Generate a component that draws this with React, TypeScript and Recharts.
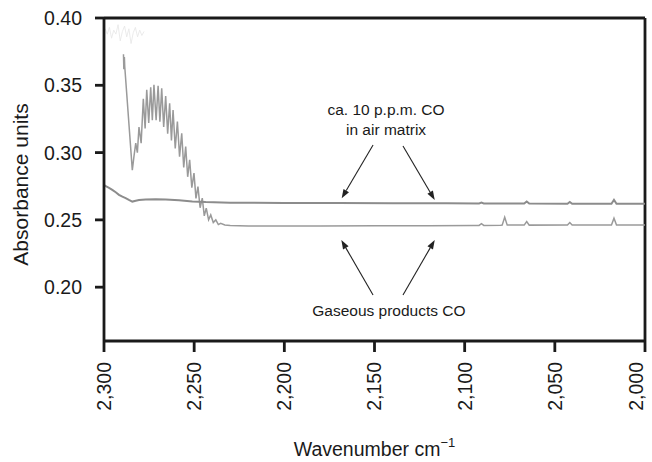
import React from 'react';
import { LineChart, Line, XAxis, YAxis, ReferenceLine, ReferenceDot } from 'recharts';

const FONT = '"Liberation Sans", Arial, Helvetica, sans-serif';

const xTicks = [2300, 2250, 2200, 2150, 2100, 2050, 2000];
const yTicks = [0.2, 0.25, 0.3, 0.35, 0.4];

// ca. 10 p.p.m. CO in air matrix (upper trace)
const airWavenumber = [
  2300, 2299, 2297.2, 2295.4, 2293.5, 2291.7, 2289.8, 2288, 2286.2, 2284.3, 2282.4, 2280.6,
  2276.9, 2271.3, 2265.8, 2258.4, 2251, 2243.6, 2230, 2200, 2170, 2140, 2110, 2092, 2090.7,
  2089.4, 2067, 2065.6, 2064.2, 2043, 2041.7, 2040.4, 2018.6, 2017.2, 2015.8, 2000,
];
const airAbsorbance = [
  0.276, 0.275, 0.2738, 0.2723, 0.2705, 0.2686, 0.2672, 0.2661, 0.2648, 0.2636, 0.2642, 0.2647,
  0.2652, 0.2654, 0.2652, 0.2646, 0.2637, 0.2632, 0.2628, 0.2626, 0.2625, 0.2624, 0.2623, 0.2622, 0.2628,
  0.2622, 0.2621, 0.2636, 0.2621, 0.262, 0.2633, 0.262, 0.262, 0.2649, 0.262, 0.262,
];

// Gaseous products CO (lower trace)
const gasWavenumber = [
  2289.2, 2289.0, 2288.7, 2288.5, 2284.3, 2283.4, 2282.4, 2281.5, 2280.6, 2279.4, 2278.2, 2277.2,
  2276.3, 2275.2, 2274.1, 2273.2, 2272.3, 2271.1, 2270.0, 2269.0, 2268.0, 2266.9, 2265.8, 2264.7,
  2263.6, 2262.6, 2261.7, 2260.5, 2259.3, 2258.1, 2256.9, 2255.8, 2254.7, 2253.6, 2252.5, 2251.3,
  2250.1, 2249.0, 2247.9, 2246.7, 2245.5, 2244.4, 2243.3, 2242.0, 2240.8, 2239.4, 2238.0, 2236.6,
  2235.3, 2233, 2230, 2220, 2200, 2180, 2150, 2120, 2095, 2092, 2090.7, 2089.4, 2080, 2079.2,
  2077.8, 2076.4, 2067, 2065.6, 2064.2, 2043, 2041.7, 2040.4, 2018.6, 2017.2, 2015.8, 2000,
];
const gasAbsorbance = [
  0.373, 0.362, 0.371, 0.364, 0.287, 0.297, 0.307, 0.3, 0.319, 0.307, 0.34, 0.318,
  0.3466, 0.322, 0.3486, 0.324, 0.3503, 0.324, 0.3496, 0.323, 0.3478, 0.319, 0.3421, 0.314,
  0.3367, 0.309, 0.3317, 0.303, 0.323, 0.297, 0.3144, 0.289, 0.3045, 0.282, 0.2946, 0.274,
  0.2847, 0.266, 0.2747, 0.259, 0.2661, 0.253, 0.2587, 0.25, 0.2537, 0.248, 0.25, 0.2465,
  0.2475, 0.2462, 0.2458, 0.2455, 0.2455, 0.2455, 0.2456, 0.2457, 0.2458, 0.2459, 0.2472, 0.2459, 0.246, 0.2461,
  0.252, 0.2461, 0.2461, 0.2488, 0.2461, 0.2462, 0.248, 0.2462, 0.2462, 0.2513, 0.2462, 0.2462,
];

// faint saturated region at the top-left
const satWavenumber = [
  2299.3, 2298.2, 2297.0, 2295.8, 2294.6, 2293.4, 2292.2, 2291.0, 2289.8, 2288.6, 2287.4, 2286.2,
  2285.0, 2283.8, 2282.6, 2281.4, 2280.2, 2279.0, 2277.8,
];
const satAbsorbance = [
  0.392, 0.388, 0.393, 0.385, 0.391, 0.388, 0.395, 0.383, 0.39, 0.394, 0.386, 0.392,
  0.381, 0.389, 0.393, 0.386, 0.391, 0.387, 0.39,
];

const airLabelLines = ['ca. 10 p.p.m. CO', 'in air matrix'];
const airLabelPos = [[2143.6, 0.3317], [2143.6, 0.3173]];
const gasLabel = 'Gaseous products CO';
const gasLabelPos = [2142, 0.1823];

const airArrows = [
  [[2150.8, 0.3056], [2168.2, 0.266]],
  [[2134.2, 0.3049], [2116.6, 0.2648]],
];
const gasArrows = [
  [[2150.8, 0.1942], [2168.4, 0.235]],
  [[2134.2, 0.1942], [2116.6, 0.235]],
];

const zip = (xs: number[], ys: number[]) => xs.map((x, i) => ({ x, y: ys[i] }));
const airData = zip(airWavenumber, airAbsorbance);
const gasData = zip(gasWavenumber, gasAbsorbance);
const satData = zip(satWavenumber, satAbsorbance);

const AXIS = '#1a1a1a';

const Arrow = (p: any) => {
  const { x1, y1, x2, y2 } = p;
  const dx = x2 - x1;
  const dy = y2 - y1;
  const len = Math.hypot(dx, dy) || 1;
  const ux = dx / len;
  const uy = dy / len;
  const hl = 9;
  const hw = 3.2;
  const bx = x2 - ux * hl;
  const by = y2 - uy * hl;
  const pts = `${x2},${y2} ${bx - uy * hw},${by + ux * hw} ${bx + uy * hw},${by - ux * hw}`;
  return (
    <g>
      <line x1={x1} y1={y1} x2={bx} y2={by} stroke="#222" strokeWidth={1.1} />
      <polygon points={pts} fill="#222" />
    </g>
  );
};

const XTick = (p: any) => {
  const { x, y, payload } = p;
  const label = payload.value.toLocaleString('en-US');
  return (
    <text
      x={x}
      y={y}
      transform={`rotate(-90, ${x}, ${y})`}
      textAnchor="end"
      dy="0.355em"
      fontSize={19.5}
      fontFamily={FONT}
      fill="#1a1a1a"
    >
      {label}
    </text>
  );
};

const XLabel = (p: any) => {
  const vb = p.viewBox || {};
  const cx = vb.x + vb.width / 2;
  const y = vb.y + 115;
  return (
    <text x={cx} y={y} textAnchor="middle" fontSize={19.5} fontFamily={FONT} fill="#1a1a1a">
      Wavenumber cm
      <tspan fontSize={13} dy={-9}>−1</tspan>
    </text>
  );
};

const YLabel = (p: any) => {
  const vb = p.viewBox || {};
  const x = vb.x + 28;
  const y = vb.y + vb.height / 2 + 5;
  return (
    <text
      x={x}
      y={y}
      transform={`rotate(-90, ${x}, ${y})`}
      textAnchor="middle"
      fontSize={21}
      fontFamily={FONT}
      fill="#1a1a1a"
    >
      Absorbance units
    </text>
  );
};

const TextShape = (text: string) => (p: any) => (
  <text
    x={p.cx}
    y={p.cy}
    textAnchor="middle"
    dy="0.355em"
    fontSize={15.5}
    fontFamily={FONT}
    fill="#1a1a1a"
  >
    {text}
  </text>
);

export default function App() {
  return (
    <div style={{ position: 'absolute', left: 0, top: 0, width: 652, height: 462, background: '#fff' }}>
      <LineChart width={652} height={462} margin={{ top: 18, right: 7, left: 0, bottom: 0 }}>
        <XAxis
          dataKey="x"
          type="number"
          domain={[2000, 2300]}
          reversed
          ticks={xTicks}
          allowDataOverflow
          height={121}
          tickSize={11}
          tickMargin={10}
          tick={<XTick />}
          axisLine={{ stroke: AXIS, strokeWidth: 2.8 }}
          tickLine={{ stroke: AXIS, strokeWidth: 2.8 }}
          label={<XLabel />}
        />
        <YAxis
          type="number"
          domain={[0.16, 0.4]}
          ticks={yTicks}
          allowDataOverflow
          width={104}
          tickSize={9}
          tickMargin={13}
          tickFormatter={(v: number) => v.toFixed(2)}
          tick={{ fontSize: 19.5, fontFamily: FONT, fill: '#1a1a1a' }}
          axisLine={{ stroke: AXIS, strokeWidth: 2.8 }}
          tickLine={{ stroke: AXIS, strokeWidth: 2.8 }}
          label={<YLabel />}
        />
        <ReferenceLine y={0.4} stroke={AXIS} strokeWidth={2.8} />
        <ReferenceLine x={2000} stroke={AXIS} strokeWidth={2.8} />
        <Line
          data={satData}
          dataKey="y"
          stroke="#e6e6e6"
          strokeWidth={0.8}
          dot={false}
          isAnimationActive={false}
        />
        <Line
          data={gasData}
          dataKey="y"
          stroke="#9a9a9a"
          strokeWidth={1.5}
          dot={false}
          isAnimationActive={false}
        />
        <Line
          data={airData}
          dataKey="y"
          stroke="#8c8c8c"
          strokeWidth={2}
          dot={false}
          isAnimationActive={false}
        />
        {airArrows.concat(gasArrows).map((a, i) => (
          <ReferenceLine
            key={`arr${i}`}
            segment={[{ x: a[0][0], y: a[0][1] }, { x: a[1][0], y: a[1][1] }]}
            shape={Arrow}
          />
        ))}
        {airLabelLines.map((t, i) => (
          <ReferenceDot
            key={`al${i}`}
            x={airLabelPos[i][0]}
            y={airLabelPos[i][1]}
            r={0}
            shape={TextShape(t)}
          />
        ))}
        <ReferenceDot x={gasLabelPos[0]} y={gasLabelPos[1]} r={0} shape={TextShape(gasLabel)} />
      </LineChart>
    </div>
  );
}
